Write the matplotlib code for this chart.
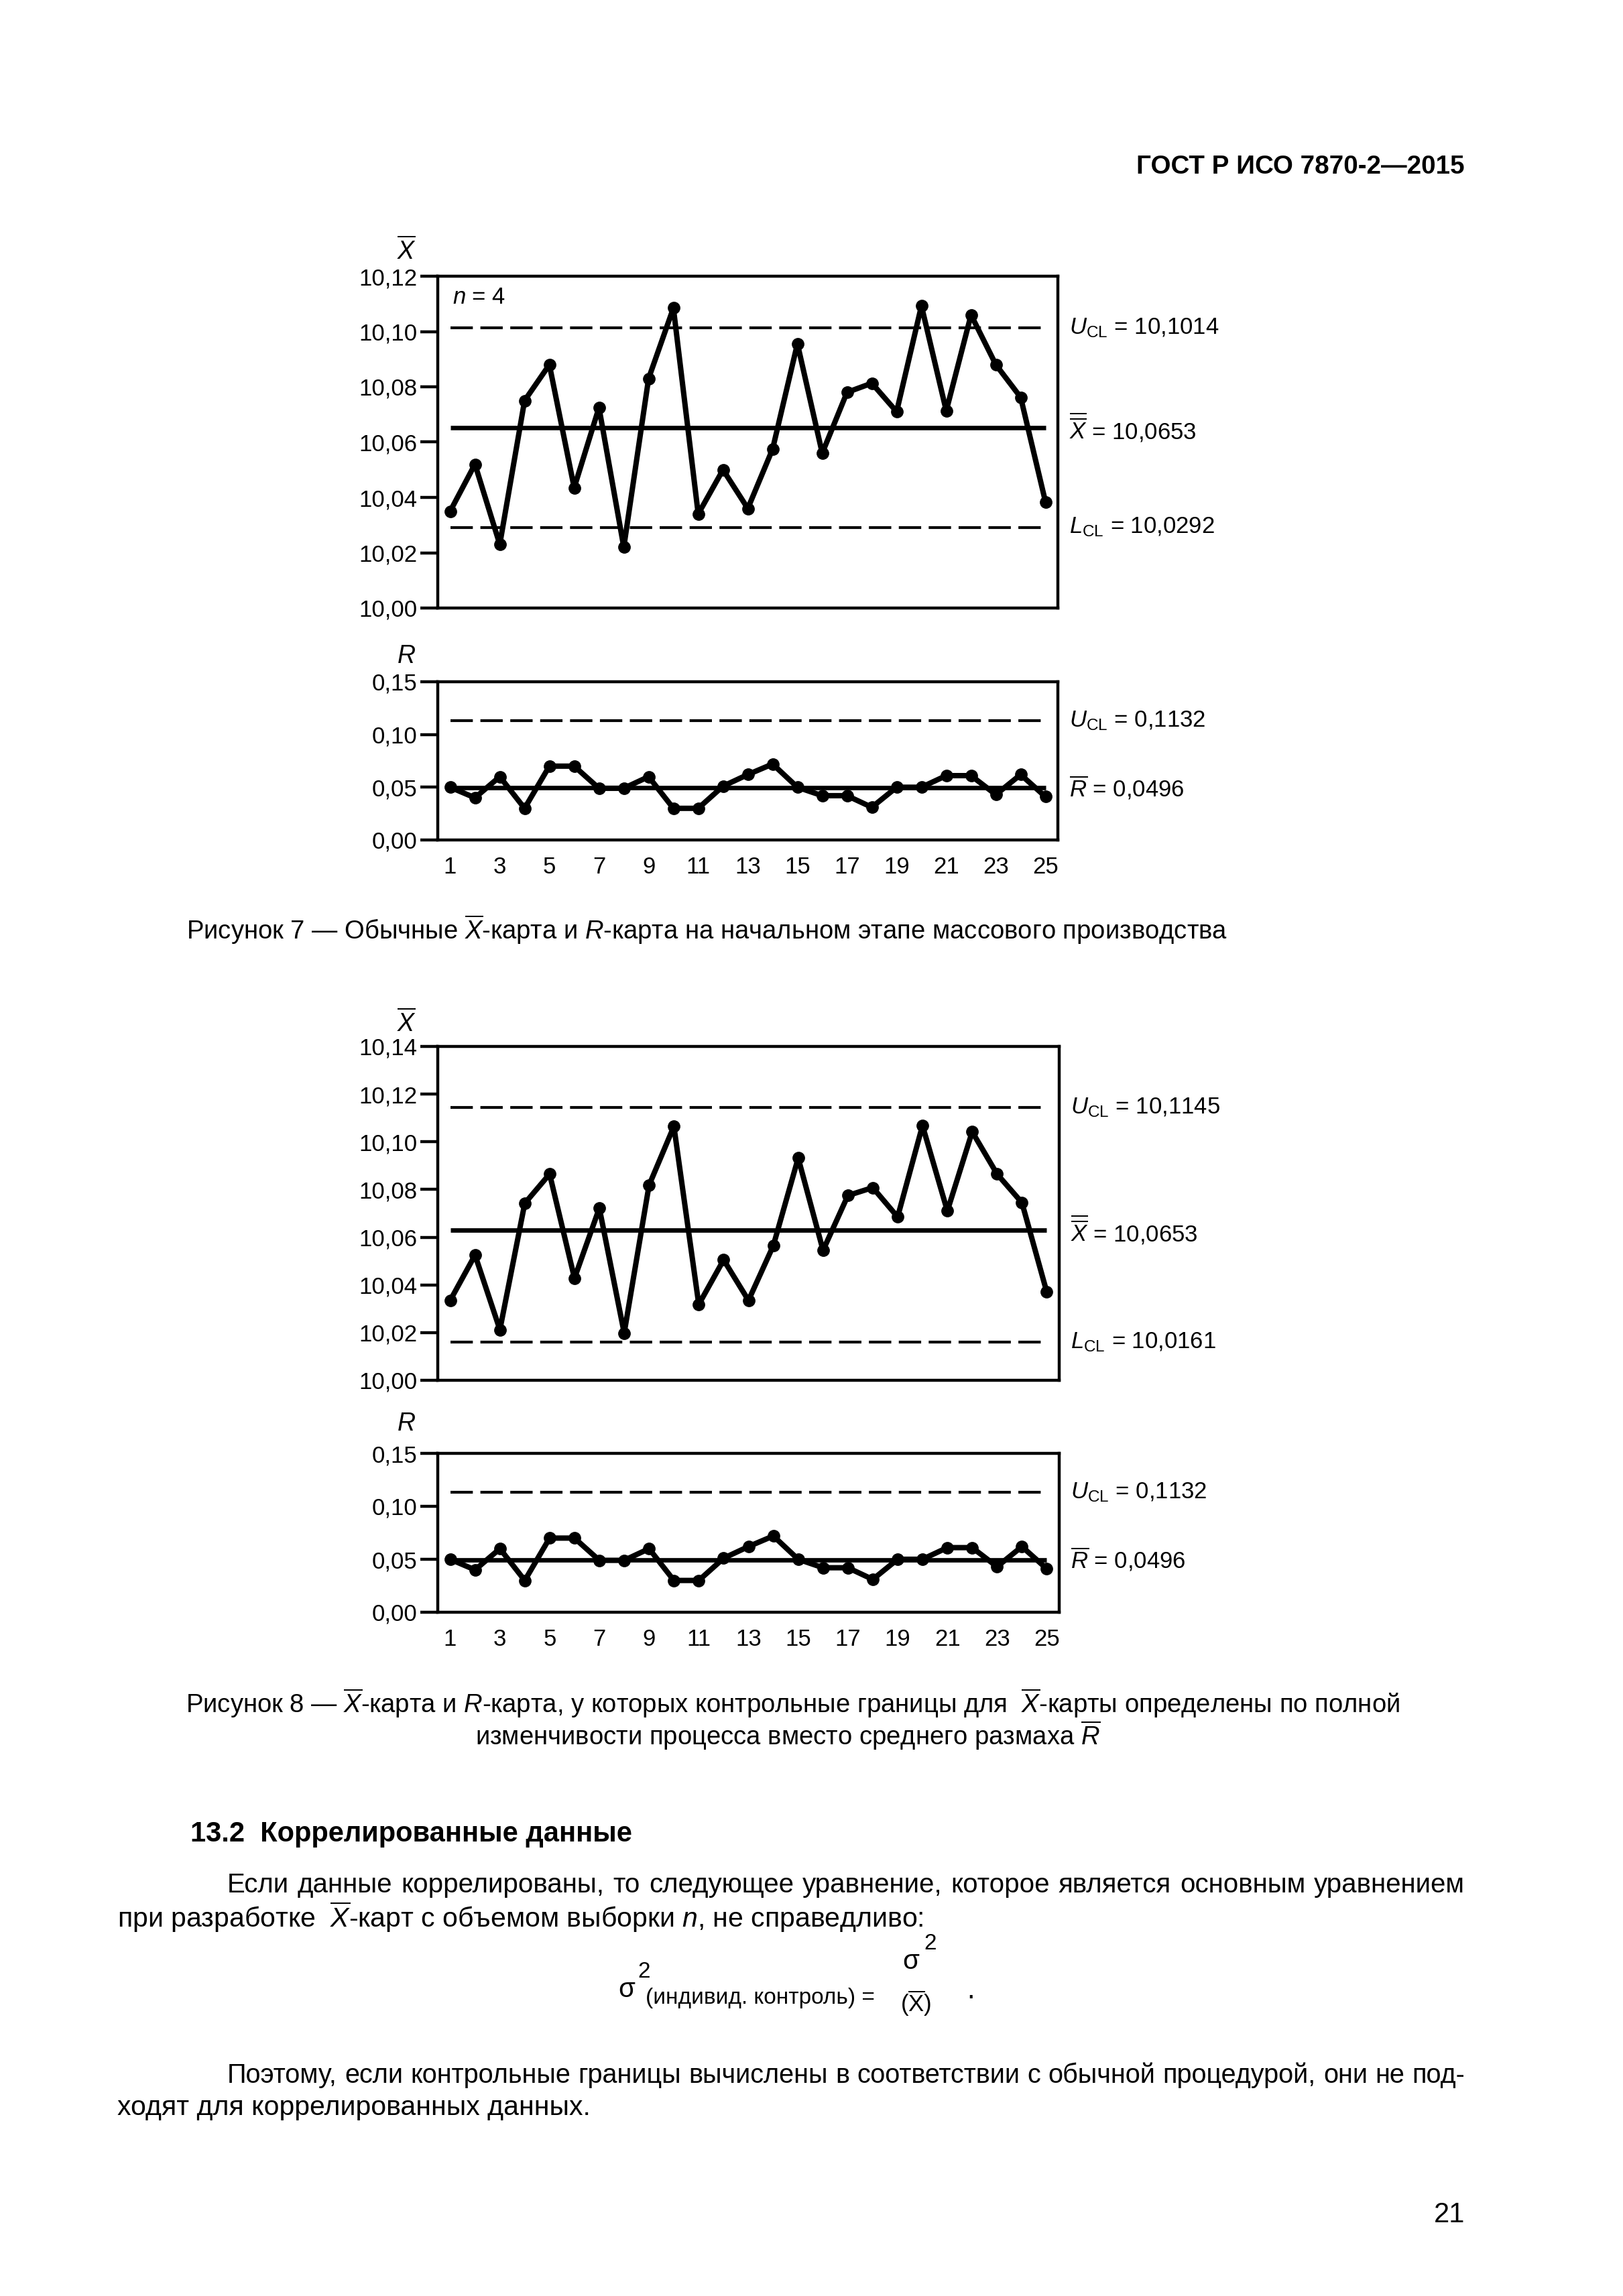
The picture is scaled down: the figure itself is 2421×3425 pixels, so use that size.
import matplotlib
matplotlib.use("Agg")
import matplotlib.pyplot as plt
from matplotlib.transforms import blended_transform_factory

plt.rcParams['font.family'] = ['Liberation Sans', 'DejaVu Sans']
plt.rcParams['mathtext.fontset'] = 'custom'
plt.rcParams['mathtext.rm'] = 'Liberation Sans'
plt.rcParams['mathtext.it'] = 'Liberation Sans:italic'
plt.rcParams['mathtext.bf'] = 'Liberation Sans:bold'

W, H = 2421, 3425

# ---------- data ----------
samples = list(range(1, 26))
odd_ticks = list(range(1, 26, 2))

xbar_fig7 = [10.035, 10.052, 10.023, 10.075, 10.088, 10.0435, 10.0725, 10.022, 10.083, 10.1085,
             10.034, 10.050, 10.036, 10.0575, 10.0956, 10.056, 10.078, 10.0813, 10.071, 10.1093,
             10.0713, 10.106, 10.088, 10.0762, 10.0384]
xbar_fig8 = [10.0335, 10.0525, 10.0212, 10.0742, 10.0865, 10.0428, 10.0722, 10.0198, 10.0818, 10.1065,
             10.0318, 10.0505, 10.0335, 10.0565, 10.0932, 10.0545, 10.0775, 10.0808, 10.0685, 10.1068,
             10.0710, 10.1042, 10.0865, 10.0745, 10.0370]
r_values = [0.050, 0.040, 0.060, 0.030, 0.070, 0.070, 0.049, 0.049, 0.060, 0.030,
            0.030, 0.051, 0.062, 0.072, 0.050, 0.042, 0.042, 0.031, 0.050, 0.050,
            0.061, 0.061, 0.043, 0.062, 0.041]

# control lines: (drawn value, label)
xbar7_lines = [(10.1014, r'$U_{\mathrm{CL}}$ = 10,1014'),
               (10.0653, r'$\overline{\overline{X}}$ = 10,0653'),
               (10.0292, r'$L_{\mathrm{CL}}$ = 10,0292')]
xbar8_lines = [(10.1145, r'$U_{\mathrm{CL}}$ = 10,1145'),
               (10.0630, r'$\overline{\overline{X}}$ = 10,0653'),
               (10.0161, r'$L_{\mathrm{CL}}$ = 10,0161')]
r_lines = [(0.1132, r'$U_{\mathrm{CL}}$ = 0,1132'),
           (0.0496, r'$\overline{R}$ = 0,0496')]

xbar7_ticks = [10.00, 10.02, 10.04, 10.06, 10.08, 10.10, 10.12]
xbar8_ticks = [10.00, 10.02, 10.04, 10.06, 10.08, 10.10, 10.12, 10.14]
r_ticks = [0.00, 0.05, 0.10, 0.15]


def fx(x):
    return x / W


def fy(y):
    return 1 - y / H


def comma(v):
    return f"{v:.2f}".replace('.', ',')


def make_axes(fig, left, top, right, bottom):
    return fig.add_axes([fx(left), fy(bottom), (right - left) / W, (bottom - top) / H])


def control_chart(ax, values, lines, yticks, show_x):
    for val, label in lines:
        solid = label.startswith(r'$\overline')
        if solid:
            ax.plot([1, 25], [val, val], color='black', lw=4.8, solid_capstyle='butt')
        else:
            ax.plot([1, 25], [val, val], color='black', lw=3, dashes=(8, 2.7))
        tr = blended_transform_factory(ax.transAxes, ax.transData)
        ax.text(1.018, val, label, transform=tr, va='center', ha='left', fontsize=25)
    ax.plot(samples, values, '-o', color='black', lw=5.8, ms=12.5)
    ax.set_xlim(0.5, 25.5)
    ax.set_ylim(yticks[0], yticks[-1])
    ax.set_yticks(yticks)
    ax.set_yticklabels([comma(v) for v in yticks])
    for s in ax.spines.values():
        s.set_linewidth(3.2)
    ax.tick_params(axis='y', direction='out', length=19, width=3.2, pad=3, labelsize=25)
    if show_x:
        ax.set_xticks(odd_ticks)
        ax.set_xticklabels([str(t) for t in odd_ticks])
        ax.tick_params(axis='x', length=0, pad=17, labelsize=25)
    else:
        ax.set_xticks([])


fig = plt.figure(figsize=(W / 100, H / 100), dpi=100)
fig.patch.set_facecolor('white')

# ---------- Figure 7 ----------
ax1 = make_axes(fig, 653, 412, 1578, 907)
control_chart(ax1, xbar_fig7, xbar7_lines, xbar7_ticks, False)
ax1.text(0.024, 0.937, r'$n$ = 4', transform=ax1.transAxes, va='center', ha='left', fontsize=25)
ax2 = make_axes(fig, 653, 1017, 1578, 1253)
control_chart(ax2, r_values, r_lines, r_ticks, True)

fig.text(fx(606), fy(375), r'$\overline{X}$', ha='center', va='center', fontsize=27)
fig.text(fx(606), fy(979), r'$R$', ha='center', va='center', fontsize=27)
fig.text(fx(1055), fy(1387),
         r'Рисунок 7 — Обычные $\overline{X}$-карта и $R$-карта на начальном этапе массового производства',
         ha='center', va='center', fontsize=27.5)

# ---------- Figure 8 ----------
ax3 = make_axes(fig, 653, 1561, 1580, 2059)
control_chart(ax3, xbar_fig8, xbar8_lines, xbar8_ticks, False)
ax4 = make_axes(fig, 653, 2168, 1580, 2405)
control_chart(ax4, r_values, r_lines, r_ticks, True)

fig.text(fx(606), fy(1527), r'$\overline{X}$', ha='center', va='center', fontsize=27)
fig.text(fx(606), fy(2124), r'$R$', ha='center', va='center', fontsize=27)
fig.text(fx(1182), fy(2541),
         r'Рисунок 8 — $\overline{X}$-карта и $R$-карта, у которых контрольные границы для  $\overline{X}$-карты определены по полной',
         ha='center', va='center', fontsize=27.5)
fig.text(fx(1175), fy(2589), r'изменчивости процесса вместо среднего размаха $\overline{R}$',
         ha='center', va='center', fontsize=27.5)

# ---------- page text ----------
fig.text(fx(2185), fy(249), 'ГОСТ Р ИСО 7870-2—2015', ha='right', va='center',
         fontsize=27.8, fontweight='bold')
fig.text(fx(284), fy(2736), '13.2  Коррелированные данные', ha='left', va='center',
         fontsize=30, fontweight='bold')

renderer = fig.canvas.get_renderer()


def justified(line, x0, x1, y, size):
    words = line.split(' ')
    texts = [fig.text(0, fy(y), w, ha='left', va='center', fontsize=size) for w in words]
    widths = [t.get_window_extent(renderer).width for t in texts]
    gap = (x1 - x0 - sum(widths)) / (len(words) - 1)
    x = x0
    for t, w in zip(texts, widths):
        t.set_x(fx(x))
        x += w + gap


justified('Если данные коррелированы, то следующее уравнение, которое является основным уравнением',
          339, 2185, 2812, 29)
fig.text(fx(175), fy(2860), r'при разработке  $\overline{X}$-карт с объемом выборки $n$, не справедливо:',
         ha='left', va='center', fontsize=29.5)

# formula
fig.text(fx(922), fy(2968), 'σ', ha='left', va='center', fontsize=29)
fig.text(fx(951), fy(2942), '2', ha='left', va='center', fontsize=24)
fig.text(fx(963), fy(2980), '(индивид. контроль) =', ha='left', va='center', fontsize=24)
fig.text(fx(1346), fy(2926), 'σ', ha='left', va='center', fontsize=29)
fig.text(fx(1378), fy(2900), '2', ha='left', va='center', fontsize=24)
fig.text(fx(1343), fy(2988), r'($\overline{\mathrm{X}}$)', ha='left', va='center', fontsize=25)
fig.text(fx(1442), fy(2970), '.', ha='left', va='center', fontsize=30)

justified('Поэтому, если контрольные границы вычислены в соответствии с обычной процедурой, они не под-',
          339, 2185, 3096, 28.5)
fig.text(fx(175), fy(3144), 'ходят для коррелированных данных.', ha='left', va='center', fontsize=29.5)

fig.text(fx(2185), fy(3304), '21', ha='right', va='center', fontsize=30)

fig.savefig('out.png', dpi=100, facecolor='white')
